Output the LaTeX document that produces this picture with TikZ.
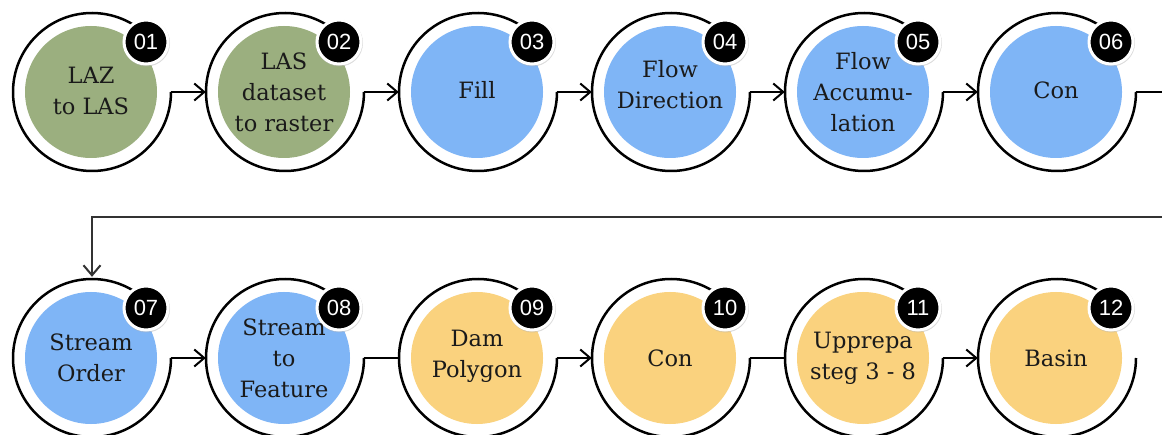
\documentclass[tikz,border=0pt]{standalone}
\usepackage{fontspec}
\setmainfont{DejaVu Serif}
\newfontfamily\badgefont{Liberation Sans}
\usetikzlibrary{arrows.meta}
\definecolor{sage}{HTML}{9BAF7F}
\definecolor{skyb}{HTML}{7FB5F6}
\definecolor{sand}{HTML}{FAD27E}
\definecolor{txt}{HTML}{1A1A1A}
\tikzset{
  ringnode/.style={circle, minimum size=158pt, inner sep=0pt},
  fillcirc/.style={circle, minimum size=132pt, inner sep=0pt, text=txt, align=center,
    font=\fontsize{22.5}{31}\selectfont},
  badge/.style={circle, fill=black, draw=white, line width=3pt, minimum size=44pt, inner sep=0pt,
    text=white, font=\badgefont\fontsize{22}{22}\selectfont},
  badgeshadow/.style={circle, fill=black!30, opacity=0.45, minimum size=47pt, inner sep=0pt},
  ringline/.style={line width=2.5pt, black},
  conn/.style={line width=2pt, black},
  arr/.style={conn, -{Straight Barb[length=10pt,width=17pt,line width=2pt]}},
}
\newcommand{\stepcirc}[6]{%
  % #1 name, #2 x, #3 y, #4 colour, #5 text, #6 badge
  \node[ringnode] (r#1) at (#2,#3) {};
  \node[fillcirc, fill=#4] (c#1) at (#2-1,#3) {};
  \draw[ringline] (#2,#3) ++(42:79) arc[start angle=42, end angle=360, radius=79];
  \node[badgeshadow] (s#1) at (#2+54.5,#3+49) {};
  \node[badge] (b#1) at (#2+54,#3+50) {#6};
}
\newcommand{\steptext}[3]{\node[fillcirc] (t#1) at (#2) {#3};}
\begin{document}
\begin{tikzpicture}[x=1pt,y=1pt]
\useasboundingbox (0,0) rectangle (1162,434);
\clip (0,0) rectangle (1162,434);
\fill[white] (0,0) rectangle (1162,434);
% row 1
\stepcirc{1}{92}{342}{sage}{}{01}
\stepcirc{2}{285}{342}{sage}{}{02}
\stepcirc{3}{478}{342}{skyb}{}{03}
\stepcirc{4}{671}{342}{skyb}{}{04}
\stepcirc{5}{864}{342}{skyb}{}{05}
\stepcirc{6}{1057}{342}{skyb}{}{06}
% row 2
\stepcirc{7}{92}{76}{skyb}{}{07}
\stepcirc{8}{285}{76}{skyb}{}{08}
\stepcirc{9}{478}{76}{sand}{}{09}
\stepcirc{10}{671}{76}{sand}{}{10}
\stepcirc{11}{864}{76}{sand}{}{11}
\stepcirc{12}{1057}{76}{sand}{}{12}
% texts
\steptext{1}{[yshift=1pt]c1.center}{LAZ\\to LAS}
\steptext{2}{c2.center}{LAS\\dataset\\to raster}
\steptext{3}{[yshift=2pt]c3.center}{Fill}
\steptext{4}{[yshift=7pt]c4.center}{Flow\\Direction}
\steptext{5}{c5.center}{Flow\\Accumu-\\lation}
\steptext{6}{[yshift=2pt]c6.center}{Con}
\steptext{7}{c7.center}{Stream\\Order}
\steptext{8}{c8.center}{Stream\\to\\Feature}
\steptext{9}{[yshift=2pt]c9.center}{Dam\\Polygon}
\steptext{10}{c10.center}{Con}
\steptext{11}{c11.center}{Upprepa\\steg 3 - 8}
\steptext{12}{c12.center}{Basin}
% connectors row 1
\draw[arr] (r1.east) -- (r2.west);
\draw[arr] (r2.east) -- (r3.west);
\draw[arr] (r3.east) -- (r4.west);
\draw[arr] (r4.east) -- (r5.west);
\draw[arr] (r5.east) -- (r6.west);
\coordinate (o1) at (1175,342);
\coordinate (o2) at (1175,217);
\coordinate (k7) at (92,217);
\draw[conn] (r6.east) -- (o1);
\draw[arr, black!80, line width=2.3pt] (o2) -- (k7) -- ([yshift=2pt]r7.north);
% connectors row 2
\draw[arr] (r7.east) -- (r8.west);
\draw[conn] (r8.east) -- (r9.west);
\draw[arr] (r9.east) -- (r10.west);
\draw[conn] (r10.east) -- (r11.west);
\draw[arr] (r11.east) -- (r12.west);
\end{tikzpicture}
\end{document}
